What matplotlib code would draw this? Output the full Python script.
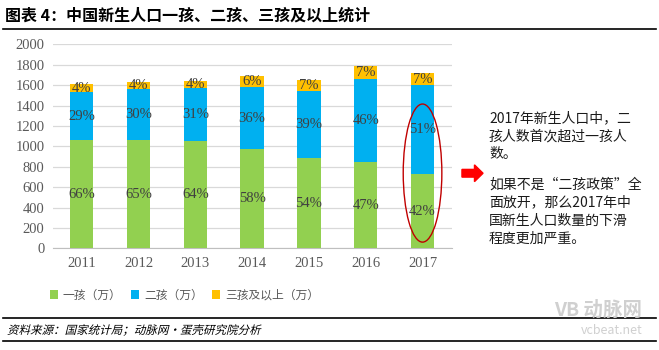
import numpy as np
import matplotlib
matplotlib.use('Agg')
import matplotlib.pyplot as plt
from matplotlib.patches import Ellipse, FancyArrow, PathPatch
from matplotlib.textpath import TextPath
from matplotlib.font_manager import FontProperties
from matplotlib.transforms import Affine2D

plt.rcParams['font.family'] = ['Noto Sans CJK SC', 'DejaVu Sans']

years = ['2011', '2012', '2013', '2014', '2015', '2016', '2017']
one_child = [1062, 1062, 1055, 973, 885, 846, 728]
two_child = [467, 500, 516, 605, 657, 814, 870]
three_plus = [79, 71, 69, 108, 108, 127, 124]
pct_one = ['66%', '65%', '64%', '58%', '54%', '47%', '42%']
pct_two = ['29%', '30%', '31%', '36%', '39%', '46%', '51%']
pct_three = ['4%', '4%', '4%', '6%', '7%', '7%', '7%']
series_names = ['一孩（万）', '二孩（万）', '三孩及以上（万）']
colors = ['#92D050', '#00B0F0', '#FFC000']

fig = plt.figure(figsize=(6.59, 3.5), dpi=100)
ax = fig.add_axes([0.080, 0.2906, 0.606, 0.5824])

x = np.arange(len(years))
w = 0.41
b1 = ax.bar(x, one_child, w, color=colors[0], label=series_names[0], zorder=3)
b2 = ax.bar(x, two_child, w, bottom=one_child, color=colors[1], label=series_names[1], zorder=3)
bottom3 = np.array(one_child) + np.array(two_child)
b3 = ax.bar(x, three_plus, w, bottom=bottom3, color=colors[2], label=series_names[2], zorder=3)

num_font = dict(family=['Liberation Serif', 'DejaVu Serif'], color='#404040', fontsize=10.5)
for i in range(len(years)):
    ax.text(x[i], one_child[i] / 2, pct_one[i], ha='center', va='center', zorder=4, **num_font)
    ax.text(x[i], one_child[i] + two_child[i] / 2, pct_two[i], ha='center', va='center', zorder=4, **num_font)
    ax.text(x[i], bottom3[i] + three_plus[i] / 2, pct_three[i], ha='center', va='center', zorder=4, **num_font)

ax.set_xlim(-0.51, 6.52)
ax.set_ylim(0, 2000)
ax.set_yticks(range(0, 2001, 200))
ax.set_xticks(x)
ax.set_xticklabels(years)
ax.grid(axis='y', color='#D9D9D9', linewidth=0.9, zorder=0)
for s in ['top', 'right', 'left']:
    ax.spines[s].set_visible(False)
ax.spines['bottom'].set_color('#BFBFBF')
ax.tick_params(axis='both', length=0, labelcolor='#595959', labelsize=10.5, pad=6)
for lab in ax.get_xticklabels() + ax.get_yticklabels():
    lab.set_family(['Liberation Serif', 'DejaVu Serif'])

# red ellipse around 2017
ax.add_patch(Ellipse((6, 738), 0.68, 1355, fill=False, edgecolor='#C00000', linewidth=1.0, zorder=5))

fig.legend(handles=[b1, b2, b3], labels=series_names, loc='center', bbox_to_anchor=(0.28, 0.157),
           ncol=3, frameon=False, fontsize=8.5, handlelength=0.7, handleheight=0.7,
           handletextpad=0.4, columnspacing=0.8, labelcolor='#595959')

# title and rules
fig.text(0.008, 0.955, '图表 4：中国新生人口一孩、二孩、三孩及以上统计', fontsize=11.5,
         fontweight='bold', va='center', ha='left', color='black')
fig.add_artist(plt.Line2D([0.005, 0.995], [0.917, 0.917], color='black', linewidth=1.2))
fig.add_artist(plt.Line2D([0.005, 0.995], [0.091, 0.091], color='black', linewidth=1.2))
fig.add_artist(plt.Line2D([0.005, 0.995], [0.026, 0.026], color='black', linewidth=1.2))

# slanted source line (CJK font has no italic face)
src = TextPath((0, 0), '资料来源：国家统计局；动脉网·蛋壳研究院分析', size=8.3,
               prop=FontProperties(family='Noto Sans CJK SC'))
src_tr = Affine2D().skew_deg(14, 0).scale(1 / 72).translate(0.07, 0.36 * 0.5 - 0.02) + fig.dpi_scale_trans
fig.add_artist(PathPatch(src, transform=src_tr, color='black', lw=0))

fig.text(0.975, 0.115, 'VB 动脉网', fontsize=14, color='#D0D0D0', ha='right', va='center', fontweight='bold')
fig.text(0.975, 0.055, 'vcbeat.net', fontsize=9, color='#D0D0D0', ha='right', va='center')

# arrow
fig.add_artist(FancyArrow(0.701, 0.505, 0.032, 0, width=0.022, head_width=0.048, head_length=0.013,
                          length_includes_head=True, color='#FF0000', transform=fig.transFigure))

note1 = ['2017年新生人口中，二', '孩人数首次超过一孩人', '数。']
note2 = ['如果不是“二孩政策”全', '面放开，那么2017年中', '国新生人口数量的下滑', '程度更加严重。']
y0 = 0.662
for line in note1:
    fig.text(0.742, y0, line, fontsize=10, va='center', ha='left', color='#1A1A1A')
    y0 -= 0.051
y0 = 0.472
for line in note2:
    fig.text(0.742, y0, line, fontsize=10, va='center', ha='left', color='#1A1A1A')
    y0 -= 0.051

fig.savefig('out.png', dpi=100)
